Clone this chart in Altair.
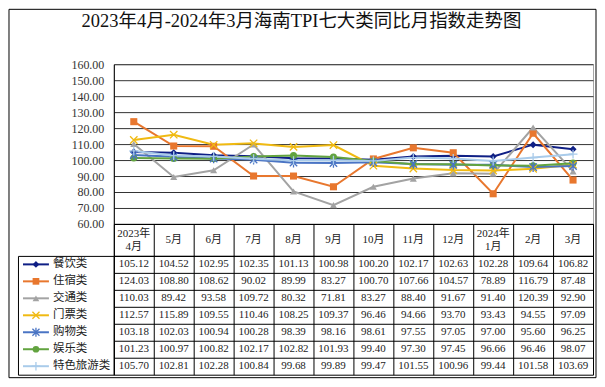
import altair as alt
import pandas as pd

FONT = "Liberation Serif, Noto Sans CJK SC, serif"
TITLE = "2023年4月-2024年3月海南TPI七大类同比月指数走势图"

months = ["2023年 4月", "5月", "6月", "7月", "8月", "9月", "10月", "11月", "12月", "2024年 1月", "2月", "3月"]
series = ["餐饮类", "住宿类", "交通类", "门票类", "购物类", "娱乐类", "特色旅游类"]

catering = [105.12, 104.52, 102.95, 102.35, 101.13, 100.98, 100.20, 102.17, 102.63, 102.28, 109.64, 106.82]
lodging = [124.03, 108.80, 108.62, 90.02, 89.99, 83.27, 100.70, 107.66, 104.57, 78.89, 116.79, 87.48]
transport = [110.03, 89.42, 93.58, 109.72, 80.32, 71.81, 83.27, 88.40, 91.67, 91.40, 120.39, 92.90]
tickets = [112.57, 115.89, 109.55, 110.46, 108.25, 109.37, 96.46, 94.66, 93.70, 93.43, 94.55, 97.09]
shopping = [103.18, 102.03, 100.94, 100.28, 98.39, 98.16, 98.61, 97.55, 97.05, 97.00, 95.60, 96.25]
entertainment = [101.23, 100.97, 100.82, 102.17, 102.82, 101.93, 99.40, 97.30, 97.45, 96.66, 96.46, 98.07]
special = [105.70, 102.81, 102.28, 100.84, 99.68, 99.89, 99.47, 101.55, 100.96, 99.44, 101.58, 103.69]

y_ticks = [60, 70, 80, 90, 100, 110, 120, 130, 140, 150, 160]

colors = ["#0F1F85", "#E8772E", "#A3A3A3", "#F0BA12", "#4A74C4", "#62A33F", "#A9CBEA"]
shapes = ["diamond", "square", "triangle-up",
          "M-1,-1L1,1M-1,1L1,-1",
          "M-1,-1L1,1M-1,1L1,-1M0,-1.3L0,1.3",
          "circle",
          "M-1.2,0L1.2,0M0,-1.2L0,1.2"]
filled_flags = [True, True, True, False, False, True, False]

all_vals = [catering, lodging, transport, tickets, shopping, entertainment, special]
rows = []
for s, f, vals in zip(series, filled_flags, all_vals):
    for i, (m, v) in enumerate(zip(months, vals)):
        rows.append({"series": s, "month": m, "value": v, "idx": i, "filled": f})
df = pd.DataFrame(rows)
ldf = pd.DataFrame({"series": series, "filled": filled_flags})
hdf = pd.DataFrame({"month": months, "two": [" " in m for m in months]})
one = pd.DataFrame({"a": [0]})

color = alt.Color("series:N", scale=alt.Scale(domain=series, range=colors), legend=None)
shape = alt.Shape("series:N", scale=alt.Scale(domain=series, range=shapes), legend=None)


def band():
    return alt.Scale(type="band", paddingInner=0, paddingOuter=0)


# ---- line chart ----
x_line = alt.X("month:N", sort=months, scale=band(), bandPosition=0.5,
               axis=alt.Axis(title=None, labels=False, ticks=False,
                             domainColor="#000", domainWidth=1, grid=False))
y_line = alt.Y("value:Q", scale=alt.Scale(domain=[60, 160], nice=False, zero=False),
               axis=alt.Axis(title=None, values=y_ticks, format=".2f", ticks=False,
                             labelPadding=10, domainColor="#000", domainWidth=1,
                             gridColor="#333", gridWidth=1, labelFont=FONT,
                             labelFontSize=12, labelColor="#333"))

base = alt.Chart(df).encode(x=x_line, y=y_line, color=color)
lines = base.mark_line(strokeWidth=2).encode(order=alt.Order("idx:Q"))
pts_f = base.transform_filter("datum.filled").mark_point(filled=True, size=50, opacity=1).encode(shape=shape)
pts_s = base.transform_filter("!datum.filled").mark_point(filled=False, size=55, strokeWidth=1.3, opacity=1).encode(shape=shape)
line_chart = alt.layer(lines, pts_f, pts_s).properties(
    width=480, height=160, view=alt.ViewBackground(stroke="#A6A6A6"))

# ---- header row (category labels) ----
xh = alt.X("month:N", sort=months, scale=band(), bandPosition=0.5,
           axis=alt.Axis(title=None, labels=False, ticks=False, domain=False, grid=True,
                         gridColor="#000", gridWidth=1, bandPosition=0))
h_single = alt.Chart(hdf).transform_filter("!datum.two").mark_text(
    font=FONT, fontSize=11, color="#222", baseline="middle").encode(x=xh, text="month:N")
h_double = alt.Chart(hdf).transform_filter("datum.two").mark_text(
    font=FONT, fontSize=11, color="#222", baseline="middle", lineBreak=" ", lineHeight=13, dy=-6).encode(
    x=xh, text="month:N")
header = alt.layer(h_single, h_double).properties(
    width=480, height=32, view=alt.ViewBackground(stroke="#000"))

blank = alt.Chart(one).mark_point(opacity=0).properties(
    width=96, height=32, view=alt.ViewBackground(stroke="transparent"))

# ---- data table ----
xt = alt.X("month:N", sort=months, scale=band(), bandPosition=0.5,
           axis=alt.Axis(title=None, labels=False, ticks=False, domain=False, grid=True,
                         gridColor="#000", gridWidth=1, bandPosition=0))
yt = alt.Y("series:N", sort=series, scale=band(), bandPosition=0.5,
           axis=alt.Axis(title=None, labels=False, ticks=False, domain=False, grid=True,
                         gridColor="#000", gridWidth=1, bandPosition=0))
table = alt.Chart(df).mark_text(font=FONT, fontSize=11, color="#222", baseline="middle").encode(
    x=xt, y=yt, text=alt.Text("value:Q", format=".2f")
).properties(width=480, height=119, view=alt.ViewBackground(stroke="#000"))

# ---- legend column ----
ly = alt.Y("series:N", sort=series, scale=band(), bandPosition=0.5, axis=None)
lbase = alt.Chart(ldf).encode(y=ly, color=color)
lrule = lbase.mark_rule(strokeWidth=2).encode(x=alt.value(5), x2=alt.value(31))
lpf = lbase.transform_filter("datum.filled").mark_point(filled=True, size=45, opacity=1).encode(
    x=alt.value(18), shape=shape)
lps = lbase.transform_filter("!datum.filled").mark_point(filled=False, size=50, strokeWidth=1.3, opacity=1).encode(
    x=alt.value(18), shape=shape)
ltext = alt.Chart(ldf).mark_text(align="left", baseline="middle", font=FONT, fontSize=11.5, color="#222").encode(
    x=alt.value(35), y=ly, text="series:N")
legend_chart = alt.layer(lrule, lpf, lps, ltext).properties(
    width=96, height=119, view=alt.ViewBackground(stroke="#000"))

# ---- spacer with frame and title ----
frame = alt.Chart(one).mark_rect(fill="transparent", stroke="#000", strokeWidth=1).encode(
    x=alt.value(-9), x2=alt.value(579), y=alt.value(-55), y2=alt.value(314))
title = alt.Chart(one).mark_text(font=FONT, fontSize=18.5, color="#111", align="center", baseline="middle").encode(
    x=alt.value(284), y=alt.value(-43), text=alt.value(TITLE))
spacer = alt.layer(frame, title).properties(width=96, height=160, view=alt.ViewBackground(stroke="transparent"))

chart = alt.concat(spacer, line_chart, blank, header, legend_chart, table, columns=2,
                   spacing=0, bounds="flush").properties(
    padding=0, background="white"
).configure_view(stroke="transparent")

chart.save("out.html", embed_options={"renderer": "svg", "actions": False})
